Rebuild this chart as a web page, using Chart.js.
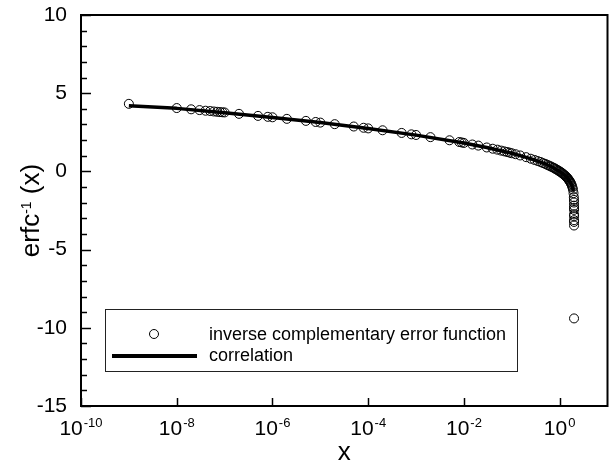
<!DOCTYPE html>
<html>
<head>
<meta charset="utf-8">
<script src="https://cdn.jsdelivr.net/npm/chart.js@4.4.0/dist/chart.umd.min.js"></script>
<style>
    html, body { margin: 0; padding: 0; background: #fff; }
    canvas { display: block; }
</style>
</head>
<body>
<canvas id="erfcChart" width="613" height="466"></canvas>
<script>
// values
const erfcX = [1e-9, 1e-8, 2e-8, 3e-8, 4e-8, 5e-8, 6e-8, 7e-8, 8e-8, 9e-8, 1e-7, 2e-7, 5e-7, 8e-7,
    1e-6, 2e-6, 5e-6, 8e-6, 1e-5, 2e-5, 5e-5, 8e-5, 1e-4, 2e-4, 5e-4, 8e-4, 1e-3, 2e-3, 5e-3, 8e-3, 9e-3,
    0.01, 0.015, 0.02, 0.03, 0.04, 0.05, 0.06, 0.07, 0.08, 0.09, 0.1, 0.12, 0.15, 0.2, 0.25, 0.3, 0.35,
    0.4, 0.45, 0.5, 0.55, 0.6, 0.65, 0.7, 0.75, 0.8, 0.85, 0.9, 0.95, 1.0, 1.05, 1.1, 1.15, 1.2, 1.25,
    1.3, 1.35, 1.4, 1.45, 1.5, 1.55, 1.6, 1.65, 1.7, 1.75, 1.8, 1.85, 1.9, 1.95, 1.98, 1.99, 1.995,
    1.998, 1.999, 1.9995, 1.9999, 1.99995, 1.99999, 1.999995, 1.999999, 2.0];
const erfcY = [4.32, 4.05, 3.97, 3.92, 3.88, 3.86, 3.83, 3.81, 3.79, 3.78, 3.77, 3.68, 3.55, 3.49,
    3.46, 3.36, 3.23, 3.16, 3.12, 3.02, 2.87, 2.79, 2.75, 2.63, 2.46, 2.37, 2.33, 2.19, 1.99, 1.88, 1.85,
    1.82, 1.72, 1.65, 1.53, 1.45, 1.39, 1.33, 1.28, 1.24, 1.2, 1.16, 1.1, 1.02, 0.91, 0.81, 0.73, 0.66,
    0.6, 0.53, 0.48, 0.42, 0.37, 0.32, 0.27, 0.23, 0.18, 0.13, 0.09, 0.04, 0.0, -0.04, -0.09, -0.13, -0.18, -0.23,
    -0.27, -0.32, -0.37, -0.42, -0.48, -0.53, -0.6, -0.66, -0.73, -0.81, -0.91, -1.02, -1.16, -1.39, -1.65, -1.82, -1.99,
    -2.19, -2.33, -2.46, -2.75, -2.87, -3.12, -3.23, -3.46, -9.4];

const corrX = [1e-9, 1e-8, 1e-7, 1e-6, 1e-5, 1e-4, 1e-3, 1e-2, 0.03, 0.1, 0.2, 0.3, 0.5, 0.7, 1.0,
    1.3, 1.5, 1.7, 1.8, 1.85, 1.9, 1.93];
const corrY = [4.2, 4.03, 3.75, 3.45, 3.12, 2.75, 2.32, 1.82, 1.53, 1.16, 0.9, 0.73, 0.48, 0.27, 0.0,
    -0.27, -0.48, -0.73, -0.9, -1.02, -1.16, -1.28];

const xTickValues = [1e-10, 1e-8, 1e-6, 1e-4, 1e-2, 1];
const xTickExponents = ['-10', '-8', '-6', '-4', '-2', '0'];
const yTickLabels = [10, 5, 0, -5, -10, -15];
const legendLabels = ['inverse complementary error function', 'correlation'];

const FONT = 'Arial, "Liberation Sans", sans-serif';

// frame, inward ticks, labels with superscripts and the boxed legend
const axesPlugin = {
    id: 'axesPlugin',
    afterDatasetsDraw(chart) {
        const ctx = chart.ctx;
        const area = chart.chartArea;
        const xs = chart.scales.x;
        const ys = chart.scales.y;
        ctx.save();
        ctx.strokeStyle = '#000';
        ctx.fillStyle = '#000';

        ctx.lineWidth = 2;
        ctx.strokeRect(area.left, area.top, area.right - area.left, area.bottom - area.top);

        ctx.lineWidth = 1.5;
        ys.ticks.forEach(t => {
            const py = Math.round(ys.getPixelForValue(t.value)) + 0.5;
            const len = t.value % 5 === 0 ? 10 : 6;
            ctx.beginPath();
            ctx.moveTo(area.left, py);
            ctx.lineTo(area.left + len, py);
            ctx.stroke();
        });
        xs.ticks.forEach(t => {
            const px = Math.round(xs.getPixelForValue(t.value)) + 0.5;
            ctx.beginPath();
            ctx.moveTo(px, area.bottom);
            ctx.lineTo(px, area.bottom - 8);
            ctx.stroke();
        });

        // y tick labels
        ctx.font = '21px ' + FONT;
        ctx.textAlign = 'right';
        ctx.textBaseline = 'middle';
        yTickLabels.forEach(v => {
            ctx.fillText(String(v), area.left - 14, ys.getPixelForValue(v));
        });

        // x tick labels, 10 with superscript exponent
        ctx.textAlign = 'left';
        ctx.textBaseline = 'alphabetic';
        xTickValues.forEach((v, i) => {
            const px = xs.getPixelForValue(v);
            ctx.font = '21px ' + FONT;
            const wBase = ctx.measureText('10').width;
            ctx.font = '13px ' + FONT;
            const wExp = ctx.measureText(xTickExponents[i]).width;
            const start = px - (wBase + 1 + wExp) / 2;
            ctx.font = '21px ' + FONT;
            ctx.fillText('10', start, area.bottom + 29);
            ctx.font = '13px ' + FONT;
            ctx.fillText(xTickExponents[i], start + wBase + 1, area.bottom + 21);
        });

        // x title
        ctx.font = '26px ' + FONT;
        ctx.textAlign = 'center';
        ctx.fillText('x', (area.left + area.right) / 2, area.bottom + 54);

        // y title, rotated: erfc^-1 (x)
        ctx.save();
        ctx.translate(39, (area.top + area.bottom) / 2);
        ctx.rotate(-Math.PI / 2);
        ctx.textAlign = 'left';
        ctx.font = '26px ' + FONT;
        const w1 = ctx.measureText('erfc').width;
        const w3 = ctx.measureText(' (x)').width;
        ctx.font = '14px ' + FONT;
        const w2 = ctx.measureText('-1').width;
        let sx = -(w1 + w2 + w3) / 2;
        ctx.font = '26px ' + FONT;
        ctx.fillText('erfc', sx, 0);
        ctx.font = '14px ' + FONT;
        ctx.fillText('-1', sx + w1, -8);
        ctx.font = '26px ' + FONT;
        ctx.fillText(' (x)', sx + w1 + w2, 0);
        ctx.restore();

        // legend box
        const lx = area.left + 24;
        const ly = area.top + 294;
        ctx.lineWidth = 1;
        ctx.strokeStyle = '#222';
        ctx.strokeRect(lx + 0.5, ly + 0.5, 412, 62);
        ctx.strokeStyle = '#000';
        ctx.beginPath();
        ctx.arc(lx + 49, ly + 25, 4.5, 0, Math.PI * 2);
        ctx.stroke();
        ctx.lineWidth = 4;
        ctx.beginPath();
        ctx.moveTo(lx + 7, ly + 47);
        ctx.lineTo(lx + 92, ly + 47);
        ctx.stroke();
        ctx.font = '18px ' + FONT;
        ctx.textAlign = 'left';
        ctx.fillText(legendLabels[0], lx + 104, ly + 31);
        ctx.fillText(legendLabels[1], lx + 104, ly + 52);

        ctx.restore();
    }
};

new Chart(document.getElementById('erfcChart'), {
    type: 'scatter',
    data: {
        datasets: [
            {
                label: legendLabels[1],
                data: corrX.map((x, i) => ({ x: x, y: corrY[i] })),
                showLine: true,
                borderColor: '#000',
                borderWidth: 3.5,
                borderJoinStyle: 'round',
                pointRadius: 0,
                fill: false
            },
            {
                label: legendLabels[0],
                data: erfcX.map((x, i) => ({ x: x, y: erfcY[i] })),
                showLine: false,
                pointStyle: 'circle',
                pointRadius: 4.5,
                pointBorderWidth: 1,
                pointBorderColor: '#000',
                pointBackgroundColor: 'rgba(0,0,0,0)'
            }
        ]
    },
    options: {
        responsive: false,
        animation: false,
        events: [],
        layout: { padding: { left: 81, top: 15, right: 2, bottom: 60 } },
        plugins: {
            legend: { display: false },
            tooltip: { enabled: false }
        },
        scales: {
            x: {
                type: 'logarithmic',
                min: 1e-10,
                max: 10,
                afterBuildTicks: scale => { scale.ticks = xTickValues.map(v => ({ value: v })); },
                afterFit: scale => { scale.height = 0; },
                ticks: { display: false },
                grid: { display: false, drawTicks: false },
                border: { display: false }
            },
            y: {
                type: 'linear',
                min: -15,
                max: 10,
                afterFit: scale => { scale.width = 0; },
                ticks: { display: false, stepSize: 1 },
                grid: { display: false, drawTicks: false },
                border: { display: false }
            }
        }
    },
    plugins: [axesPlugin]
});
</script>
</body>
</html>
